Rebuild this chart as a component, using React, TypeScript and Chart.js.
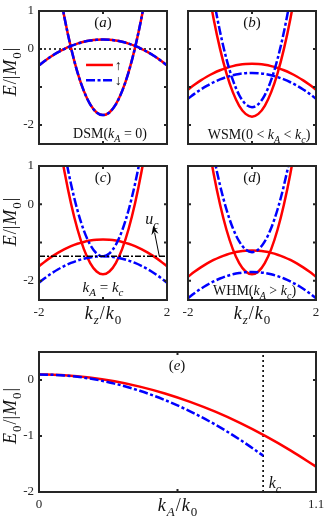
import React, { useEffect, useRef } from 'react';
import { Chart, registerables } from 'chart.js';

Chart.register(...registerables);

// ---------------- data ----------------
const KZ = [-2, -1.8, -1.6, -1.4, -1.2, -1, -0.8, -0.6, -0.4, -0.2, 0, 0.2, 0.4, 0.6, 0.8, 1, 1.2, 1.4, 1.6, 1.8, 2];
const KZ_STEEP = [-1.4, -1.2, -1, -0.8, -0.6, -0.4, -0.2, 0, 0.2, 0.4, 0.6, 0.8, 1, 1.2, 1.4];
const KZ_REF = [-2, 2];

// (a) DSM
const A_UP_STEEP = [1.729, 0.809, 0.03, -0.607, -1.103, -1.457, -1.669, -1.74, -1.669, -1.457, -1.103, -0.607, 0.03, 0.809, 1.729];
const A_UP_FLAT = [-0.43, -0.301, -0.185, -0.083, 0.005, 0.08, 0.141, 0.189, 0.223, 0.243, 0.25, 0.243, 0.223, 0.189, 0.141, 0.08, 0.005, -0.083, -0.185, -0.301, -0.43];
const A_DN_STEEP = [1.729, 0.809, 0.03, -0.607, -1.103, -1.457, -1.669, -1.74, -1.669, -1.457, -1.103, -0.607, 0.03, 0.809, 1.729];
const A_DN_FLAT = [-0.43, -0.301, -0.185, -0.083, 0.005, 0.08, 0.141, 0.189, 0.223, 0.243, 0.25, 0.243, 0.223, 0.189, 0.141, 0.08, 0.005, -0.083, -0.185, -0.301, -0.43];
const A_ZERO = [0, 0];

// (b) WSM
const B_UP_STEEP = [1.728, 0.798, 0.01, -0.634, -1.136, -1.494, -1.708, -1.78, -1.708, -1.494, -1.136, -0.634, 0.01, 0.798, 1.728];
const B_UP_FLAT = [-1.07, -0.941, -0.825, -0.723, -0.635, -0.56, -0.499, -0.451, -0.417, -0.397, -0.39, -0.397, -0.417, -0.451, -0.499, -0.56, -0.635, -0.723, -0.825, -0.941, -1.07];
const B_DN_STEEP = [2.37, 1.336, 0.46, -0.256, -0.814, -1.212, -1.45, -1.53, -1.45, -1.212, -0.814, -0.256, 0.46, 1.336, 2.37];
const B_DN_FLAT = [-1.31, -1.181, -1.065, -0.963, -0.875, -0.8, -0.739, -0.691, -0.657, -0.637, -0.63, -0.637, -0.657, -0.691, -0.739, -0.8, -0.875, -0.963, -1.065, -1.181, -1.31];

// (c) k_A = k_c
const C_UP_STEEP = [1.796, 0.834, 0.02, -0.646, -1.164, -1.534, -1.756, -1.83, -1.756, -1.534, -1.164, -0.646, 0.02, 0.834, 1.796];
const C_UP_FLAT = [-1.62, -1.487, -1.368, -1.263, -1.172, -1.095, -1.032, -0.983, -0.948, -0.927, -0.92, -0.927, -0.948, -0.983, -1.032, -1.095, -1.172, -1.263, -1.368, -1.487, -1.62];
const C_DN_STEEP = [2.344, 1.362, 0.53, -0.15, -0.68, -1.058, -1.284, -1.36, -1.284, -1.058, -0.68, -0.15, 0.53, 1.362, 2.344];
const C_DN_FLAT = [-2.048, -1.917, -1.8, -1.697, -1.608, -1.532, -1.47, -1.422, -1.388, -1.367, -1.36, -1.367, -1.388, -1.422, -1.47, -1.532, -1.608, -1.697, -1.8, -1.917, -2.048];
const U_C = [-1.36, -1.36];

// (d) WHM
const D_UP_STEEP = [1.757, 0.805, 0.0, -0.659, -1.171, -1.537, -1.757, -1.83, -1.757, -1.537, -1.171, -0.659, 0.0, 0.805, 1.757];
const D_UP_FLAT = [-1.895, -1.764, -1.647, -1.544, -1.455, -1.379, -1.317, -1.269, -1.235, -1.214, -1.207, -1.214, -1.235, -1.269, -1.317, -1.379, -1.455, -1.544, -1.647, -1.764, -1.895];
const D_DN_STEEP = [2.18, 1.27, 0.5, -0.13, -0.62, -0.97, -1.18, -1.25, -1.18, -0.97, -0.62, -0.13, 0.5, 1.27, 2.18];
const D_DN_FLAT = [-2.455, -2.324, -2.207, -2.104, -2.015, -1.939, -1.877, -1.829, -1.795, -1.774, -1.767, -1.774, -1.795, -1.829, -1.877, -1.939, -2.015, -2.104, -2.207, -2.324, -2.455];

// (e) E0 vs kA
const KA = [0, 0.1, 0.2, 0.3, 0.4, 0.5, 0.6, 0.7, 0.8, 0.9, 1.0, 1.1];
const E0_UP = [0.1, 0.086, 0.046, -0.022, -0.118, -0.24, -0.39, -0.566, -0.77, -1.002, -1.26, -1.546];
const KA_DN = [0, 0.1, 0.2, 0.3, 0.4, 0.5, 0.6, 0.7, 0.8, 0.89];
const E0_DN = [0.1, 0.082, 0.027, -0.065, -0.193, -0.358, -0.559, -0.797, -1.071, -1.35];
const KC_X = [0.89, 0.89];
const KC_Y = [-2, 0.5];

// ticks
const Y_TICKS = [1, 0, -1, -2];
const Y_TICK_LABELS = ['1', '0', '', '-2'];
const X_TICKS = [-2, 0, 2];
const X_TICK_LABELS = ['-2', '', '2'];
const E_Y_TICKS = [0, -1, -2];
const E_Y_TICK_LABELS = ['0', '-1', '-2'];
const E_X_TICKS = [0, 0.55, 1.1];
const E_X_TICK_LABELS = ['0', '', '1.1'];

// ---------------- styles ----------------
const FONT = "'Liberation Serif', 'Times New Roman', Times, serif";
const AXIS = '#262626';
const TXT = '#111111';
const RED = '#ff0000';
const BLUE = '#0000ff';
const DASH_DOT = [9, 2.5, 3, 2.5];
const DOTTED = [2, 3];
const BLACK_DASH_DOT = [6, 2, 2, 2];

type Seg = { t: string; it?: boolean; sub?: boolean };
type Series = { x: number[]; y: number[]; color: string; width: number; dash?: number[]; order: number; smooth: boolean };
type TextItem = { segs: Seg[]; x: number; y: number; size: number; gap?: number };
type LegendLine = { x1: number; x2: number; y: number; color: string; dash?: number[] };
type Panel = {
  canvas: { left: number; top: number; width: number; height: number };
  plot: { left: number; top: number; right: number; bottom: number };
  xMin: number; xMax: number; yMin: number; yMax: number;
  xTicks: number[]; xTickLabels: string[]; yTicks: number[]; yTickLabels: string[];
  showX: boolean; showY: boolean;
  series: Series[];
  texts: TextItem[];
  legend?: LegendLine[];
  arrow?: { x1: number; y1: number; x2: number; y2: number };
  yTitle?: { segs: Seg[]; x: number; y: number };
  xTitle?: { segs: Seg[]; x: number; y: number };
};

const E_M0: Seg[] = [{ t: 'E', it: true }, { t: '/|' }, { t: 'M', it: true }, { t: '0', sub: true }, { t: '|' }];
const E0_M0: Seg[] = [{ t: 'E', it: true }, { t: '0', sub: true }, { t: '/|' }, { t: 'M', it: true }, { t: '0', sub: true }, { t: '|' }];
const KZ_K0: Seg[] = [{ t: 'k', it: true }, { t: 'z', it: true, sub: true }, { t: '/' }, { t: 'k', it: true }, { t: '0', sub: true }];
const KA_K0: Seg[] = [{ t: 'k', it: true }, { t: 'A', it: true, sub: true }, { t: '/' }, { t: 'k', it: true }, { t: '0', sub: true }];

const red = (x: number[], y: number[]): Series => ({ x, y, color: RED, width: 2.5, order: 3, smooth: true });
const blue = (x: number[], y: number[]): Series => ({ x, y, color: BLUE, width: 2.5, dash: DASH_DOT, order: 1, smooth: true });

const PANELS: Panel[] = [
  {
    canvas: { left: 0, top: 0, width: 178, height: 160 },
    plot: { left: 39, top: 11, right: 167, bottom: 144 },
    xMin: -2, xMax: 2, yMin: -2.5, yMax: 1,
    xTicks: X_TICKS, xTickLabels: X_TICK_LABELS, yTicks: Y_TICKS, yTickLabels: Y_TICK_LABELS,
    showX: false, showY: true,
    series: [
      { x: KZ_REF, y: A_ZERO, color: '#000000', width: 1.6, dash: DOTTED, order: 5, smooth: false },
      red(KZ, A_UP_FLAT), red(KZ_STEEP, A_UP_STEEP), blue(KZ, A_DN_FLAT), blue(KZ_STEEP, A_DN_STEEP),
    ],
    texts: [
      { segs: [{ t: '(' }, { t: 'a', it: true }, { t: ')' }], x: 0, y: 0.71, size: 15 },
      { segs: [{ t: 'DSM(' }, { t: 'k', it: true }, { t: 'A', it: true, sub: true }, { t: ' = 0)' }], x: 0.22, y: -2.21, size: 14 },
      { segs: [{ t: '↑' }], x: 0.48, y: -0.42, size: 14 },
      { segs: [{ t: '↓' }], x: 0.48, y: -0.82, size: 14 },
    ],
    legend: [
      { x1: -0.53, x2: 0.31, y: -0.42, color: RED },
      { x1: -0.53, x2: 0.31, y: -0.82, color: BLUE, dash: DASH_DOT },
    ],
    yTitle: { segs: E_M0, x: 10, y: 72 },
  },
  {
    canvas: { left: 170, top: 0, width: 154, height: 160 },
    plot: { left: 188, top: 11, right: 316, bottom: 144 },
    xMin: -2, xMax: 2, yMin: -2.5, yMax: 1,
    xTicks: X_TICKS, xTickLabels: X_TICK_LABELS, yTicks: Y_TICKS, yTickLabels: Y_TICK_LABELS,
    showX: false, showY: false,
    series: [red(KZ, B_UP_FLAT), red(KZ_STEEP, B_UP_STEEP), blue(KZ, B_DN_FLAT), blue(KZ_STEEP, B_DN_STEEP)],
    texts: [
      { segs: [{ t: '(' }, { t: 'b', it: true }, { t: ')' }], x: 0, y: 0.71, size: 15 },
      { segs: [{ t: 'WSM(0 < ' }, { t: 'k', it: true }, { t: 'A', it: true, sub: true }, { t: ' < ' }, { t: 'k', it: true }, { t: 'c', it: true, sub: true }, { t: ')' }], x: 0.22, y: -2.24, size: 14 },
    ],
  },
  {
    canvas: { left: 0, top: 155, width: 178, height: 175 },
    plot: { left: 39, top: 166, right: 167, bottom: 300 },
    xMin: -2, xMax: 2, yMin: -2.5, yMax: 1,
    xTicks: X_TICKS, xTickLabels: X_TICK_LABELS, yTicks: Y_TICKS, yTickLabels: Y_TICK_LABELS,
    showX: true, showY: true,
    series: [
      red(KZ, C_UP_FLAT), red(KZ_STEEP, C_UP_STEEP), blue(KZ, C_DN_FLAT), blue(KZ_STEEP, C_DN_STEEP),
      { x: KZ_REF, y: U_C, color: '#000000', width: 1.5, dash: BLACK_DASH_DOT, order: 0, smooth: false },
    ],
    texts: [
      { segs: [{ t: '(' }, { t: 'c', it: true }, { t: ')' }], x: 0, y: 0.71, size: 15 },
      { segs: [{ t: 'k', it: true }, { t: 'A', it: true, sub: true }, { t: ' = ' }, { t: 'k', it: true }, { t: 'c', it: true, sub: true }], x: 0, y: -2.16, size: 15 },
      { segs: [{ t: 'u', it: true }, { t: 'c', it: true, sub: true }], x: 1.53, y: -0.38, size: 16 },
    ],
    arrow: { x1: 1.76, y1: -1.36, x2: 1.57, y2: -0.56 },
    yTitle: { segs: E_M0, x: 10, y: 222 },
    xTitle: { segs: KZ_K0, x: 103, y: 313 },
  },
  {
    canvas: { left: 170, top: 155, width: 154, height: 175 },
    plot: { left: 188, top: 166, right: 316, bottom: 300 },
    xMin: -2, xMax: 2, yMin: -2.5, yMax: 1,
    xTicks: X_TICKS, xTickLabels: X_TICK_LABELS, yTicks: Y_TICKS, yTickLabels: Y_TICK_LABELS,
    showX: true, showY: false,
    series: [red(KZ, D_UP_FLAT), red(KZ_STEEP, D_UP_STEEP), blue(KZ, D_DN_FLAT), blue(KZ_STEEP, D_DN_STEEP)],
    texts: [
      { segs: [{ t: '(' }, { t: 'd', it: true }, { t: ')' }], x: 0, y: 0.71, size: 15 },
      { segs: [{ t: 'WHM(' }, { t: 'k', it: true }, { t: 'A', it: true, sub: true }, { t: ' > ' }, { t: 'k', it: true }, { t: 'c', it: true, sub: true }, { t: ')' }], x: 0.08, y: -2.26, size: 14 },
    ],
    xTitle: { segs: KZ_K0, x: 252, y: 313 },
  },
  {
    canvas: { left: 0, top: 340, width: 324, height: 178 },
    plot: { left: 39, top: 352, right: 316, bottom: 492 },
    xMin: 0, xMax: 1.1, yMin: -2, yMax: 0.5,
    xTicks: E_X_TICKS, xTickLabels: E_X_TICK_LABELS, yTicks: E_Y_TICKS, yTickLabels: E_Y_TICK_LABELS,
    showX: true, showY: true,
    series: [
      { x: KC_X, y: KC_Y, color: '#000000', width: 1.6, dash: DOTTED, order: 5, smooth: false },
      red(KA, E0_UP), blue(KA_DN, E0_DN),
    ],
    texts: [
      { segs: [{ t: '(' }, { t: 'e', it: true }, { t: ')' }], x: 0.548, y: 0.27, size: 15 },
      { segs: [{ t: 'k', it: true }, { t: 'c', it: true, sub: true }], x: 0.937, y: -1.84, size: 16 },
    ],
    yTitle: { segs: E0_M0, x: 10, y: 416 },
    xTitle: { segs: KA_K0, x: 177.5, y: 505 },
  },
];

function drawRich(ctx: CanvasRenderingContext2D, segs: Seg[], x: number, y: number, size: number, rotate = false, gap = 0) {
  const subSize = Math.round(size * 0.72);
  const fontOf = (s: Seg) => `${s.it ? 'italic ' : ''}${s.sub ? subSize : size}px ${FONT}`;
  const widths = segs.map((s) => { ctx.font = fontOf(s); return ctx.measureText(s.t).width; });
  const total = widths.reduce((a, b) => a + b, 0) + gap * (segs.length - 1);
  ctx.save();
  ctx.translate(x, y);
  if (rotate) ctx.rotate(-Math.PI / 2);
  ctx.fillStyle = TXT;
  ctx.textBaseline = 'alphabetic';
  ctx.textAlign = 'left';
  let cx = -total / 2;
  const base = size * 0.33;
  segs.forEach((s, i) => {
    ctx.font = fontOf(s);
    ctx.fillText(s.t, cx, base + (s.sub ? size * 0.28 : 0));
    cx += widths[i] + gap;
  });
  ctx.restore();
}

function decoPlugin(p: Panel) {
  return {
    id: 'deco',
    afterDatasetsDraw(chart: any) {
      const { ctx, chartArea: ca, scales } = chart;
      const xs = scales.x, ys = scales.y;
      const ox = p.canvas.left, oy = p.canvas.top;
      ctx.save();
      // legend lines
      (p.legend || []).forEach((l) => {
        ctx.beginPath();
        ctx.strokeStyle = l.color;
        ctx.lineWidth = 2.5;
        ctx.setLineDash(l.dash || []);
        const py = ys.getPixelForValue(l.y);
        ctx.moveTo(xs.getPixelForValue(l.x1), py);
        ctx.lineTo(xs.getPixelForValue(l.x2), py);
        ctx.stroke();
      });
      ctx.setLineDash([]);
      // arrow
      if (p.arrow) {
        const a = p.arrow;
        const bx = xs.getPixelForValue(a.x1), by = ys.getPixelForValue(a.y1);
        const tx = xs.getPixelForValue(a.x2), ty = ys.getPixelForValue(a.y2);
        const ang = Math.atan2(ty - by, tx - bx);
        const L = 9, W = 3.6;
        ctx.strokeStyle = '#000';
        ctx.lineWidth = 1;
        ctx.beginPath();
        ctx.moveTo(bx, by);
        ctx.lineTo(tx - Math.cos(ang) * (L - 2), ty - Math.sin(ang) * (L - 2));
        ctx.stroke();
        ctx.fillStyle = '#000';
        ctx.beginPath();
        ctx.moveTo(tx, ty);
        ctx.lineTo(tx - Math.cos(ang) * L + Math.sin(ang) * W, ty - Math.sin(ang) * L - Math.cos(ang) * W);
        ctx.lineTo(tx - Math.cos(ang) * (L - 3), ty - Math.sin(ang) * (L - 3));
        ctx.lineTo(tx - Math.cos(ang) * L - Math.sin(ang) * W, ty - Math.sin(ang) * L + Math.cos(ang) * W);
        ctx.closePath();
        ctx.fill();
      }
      // box
      ctx.strokeStyle = AXIS;
      ctx.lineWidth = 2;
      ctx.strokeRect(ca.left, ca.top, ca.right - ca.left, ca.bottom - ca.top);
      ctx.beginPath();
      p.yTicks.forEach((v) => {
        const py = ys.getPixelForValue(v);
        ctx.moveTo(ca.left, py); ctx.lineTo(ca.left + 3, py);
        ctx.moveTo(ca.right - 3, py); ctx.lineTo(ca.right, py);
      });
      p.xTicks.forEach((v) => {
        const px = xs.getPixelForValue(v);
        ctx.moveTo(px, ca.top); ctx.lineTo(px, ca.top + 3);
        ctx.moveTo(px, ca.bottom - 3); ctx.lineTo(px, ca.bottom);
      });
      ctx.stroke();
      // texts
      p.texts.forEach((t) => drawRich(ctx, t.segs, xs.getPixelForValue(t.x), ys.getPixelForValue(t.y), t.size, false, t.gap || 0));
      if (p.yTitle) drawRich(ctx, p.yTitle.segs, p.yTitle.x - ox, p.yTitle.y - oy, 18, true, 1);
      if (p.xTitle) drawRich(ctx, p.xTitle.segs, p.xTitle.x - ox, p.xTitle.y - oy, 18, false, 1);
      ctx.restore();
    },
  };
}

function makeConfig(p: Panel): any {
  const yw = p.plot.left - p.canvas.left;
  const xh = p.canvas.top + p.canvas.height - p.plot.bottom;
  const padTop = p.plot.top - p.canvas.top;
  const padRight = p.canvas.left + p.canvas.width - p.plot.right;
  const tickFont = { family: FONT, size: 13 };
  return {
    type: 'scatter',
    data: {
      datasets: p.series.map((s) => ({
        data: s.x.map((x, i) => ({ x, y: s.y[i] })),
        showLine: true,
        borderColor: s.color,
        backgroundColor: s.color,
        borderWidth: s.width,
        borderDash: s.dash || [],
        pointRadius: 0,
        pointHoverRadius: 0,
        fill: false,
        order: s.order,
        tension: s.smooth ? 0.4 : 0,
        cubicInterpolationMode: s.smooth ? 'monotone' : 'default',
      })),
    },
    options: {
      responsive: false,
      animation: false,
      devicePixelRatio: 1,
      events: [],
      layout: { padding: { top: padTop, right: padRight, left: 0, bottom: 0 } },
      plugins: { legend: { display: false }, tooltip: { enabled: false }, title: { display: false } },
      scales: {
        x: {
          type: 'linear',
          min: p.xMin,
          max: p.xMax,
          grid: { display: false, drawTicks: false },
          border: { display: false },
          afterBuildTicks: (s: any) => { s.ticks = p.xTicks.map((v) => ({ value: v })); },
          afterFit: (s: any) => { s.height = xh; s.paddingLeft = 0; s.paddingRight = 0; },
          ticks: {
            display: p.showX,
            autoSkip: false,
            maxRotation: 0,
            padding: 5,
            font: tickFont,
            color: AXIS,
            callback: (v: number) => { const i = p.xTicks.indexOf(v); return i >= 0 ? p.xTickLabels[i] : ''; },
          },
        },
        y: {
          type: 'linear',
          min: p.yMin,
          max: p.yMax,
          grid: { display: false, drawTicks: false },
          border: { display: false },
          afterBuildTicks: (s: any) => { s.ticks = p.yTicks.map((v) => ({ value: v })); },
          afterFit: (s: any) => { s.width = yw; s.paddingTop = 0; s.paddingBottom = 0; },
          ticks: {
            display: p.showY,
            autoSkip: false,
            padding: 5,
            font: tickFont,
            color: AXIS,
            callback: (v: number) => { const i = p.yTicks.indexOf(v); return i >= 0 ? p.yTickLabels[i] : ''; },
          },
        },
      },
    },
    plugins: [decoPlugin(p)],
  };
}

function PanelChart({ panel }: { panel: Panel }) {
  const ref = useRef<HTMLCanvasElement>(null);
  useEffect(() => {
    if (!ref.current) return;
    const chart = new Chart(ref.current, makeConfig(panel));
    return () => chart.destroy();
  }, [panel]);
  const c = panel.canvas;
  return (
    <canvas
      ref={ref}
      width={c.width}
      height={c.height}
      style={{ position: 'absolute', left: c.left, top: c.top, width: c.width, height: c.height }}
    />
  );
}

export default function App() {
  return (
    <div style={{ position: 'absolute', left: 0, top: 0, width: 324, height: 518, background: '#ffffff', overflow: 'hidden' }}>
      {PANELS.map((p, i) => (
        <PanelChart key={i} panel={p} />
      ))}
    </div>
  );
}
